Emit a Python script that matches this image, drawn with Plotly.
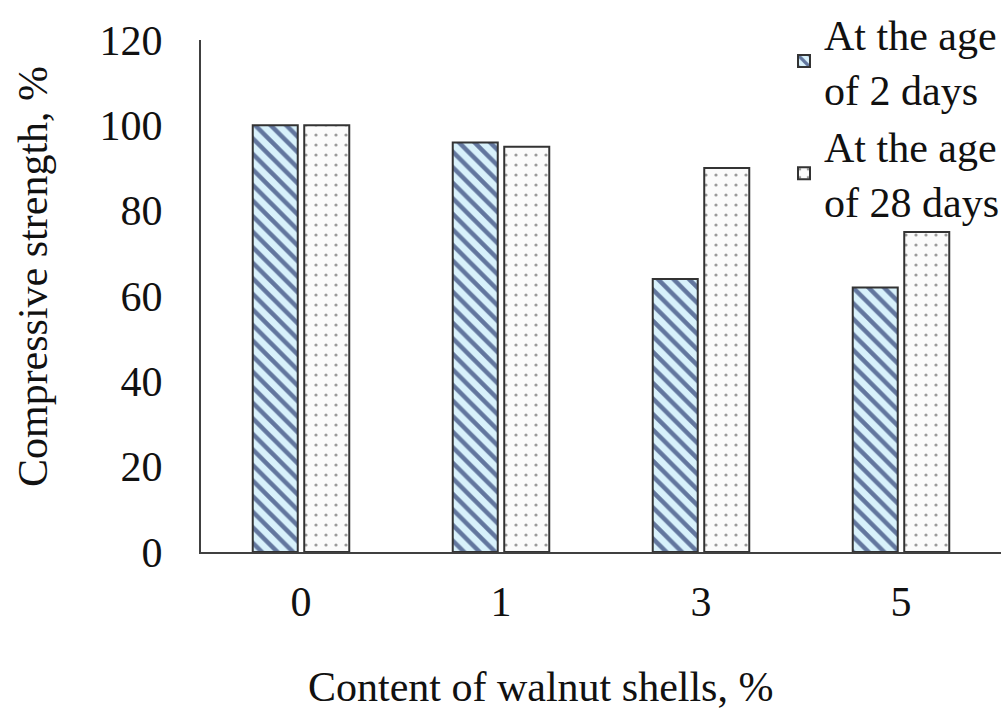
import plotly.graph_objects as go

categories = ["0", "1", "3", "5"]
age_2_days = [100, 96, 64, 62]
age_28_days = [100, 95, 90, 75]
y_ticks = [0, 20, 40, 60, 80, 100, 120]

FONT = "Liberation Serif, Times New Roman, serif"

fig = go.Figure()
fig.add_trace(go.Bar(
    x=categories, y=age_2_days, name="At the age<br>of 2 days",
    marker=dict(color="#d8f1fb", line=dict(color="#333333", width=2),
                pattern=dict(shape="\\", fgcolor="#62769e", bgcolor="#d8f1fb",
                             size=11, solidity=0.4, fillmode="replace")),
))
fig.add_trace(go.Bar(
    x=categories, y=age_28_days, name="At the age<br>of 28 days",
    marker=dict(color="#ffffff", line=dict(color="#333333", width=2),
                pattern=dict(shape=".", fgcolor="#9a9a9a", bgcolor="#fbfbfb",
                             size=10, solidity=0.08, fillmode="replace")),
))

fig.update_layout(
    width=1004, height=710,
    margin=dict(l=201, r=3, t=40, b=158, autoexpand=False),
    paper_bgcolor="white", plot_bgcolor="white",
    font=dict(family=FONT, size=42, color="#111111"),
    barmode="group", bargap=0.485, bargroupgap=0.126,
    showlegend=True,
    legend=dict(xref="container", yref="container", x=1.0, y=1.015,
                xanchor="right", yanchor="top", bgcolor="rgba(0,0,0,0)",
                font=dict(family=FONT, size=42), tracegroupgap=0,
                itemwidth=30),
    xaxis=dict(showline=True, linecolor="#404040", linewidth=2, ticks="",
               showgrid=False, ticklabelstandoff=12),
    yaxis=dict(range=[0, 120], tickvals=y_ticks, showline=True,
               linecolor="#404040", linewidth=2, ticks="", showgrid=False,
               zeroline=False, ticklabelstandoff=28),
    annotations=[
        dict(text="Content of walnut shells, %", xref="paper", yref="paper",
             x=0.424, y=-0.264, xanchor="center", yanchor="middle",
             showarrow=False, font=dict(family=FONT, size=42)),
        dict(text="Compressive strength, %", xref="paper", yref="paper",
             x=-0.21, y=0.537, xanchor="center", yanchor="middle",
             textangle=-90, showarrow=False, font=dict(family=FONT, size=42)),
    ],
)

fig.write_html("out.html")
